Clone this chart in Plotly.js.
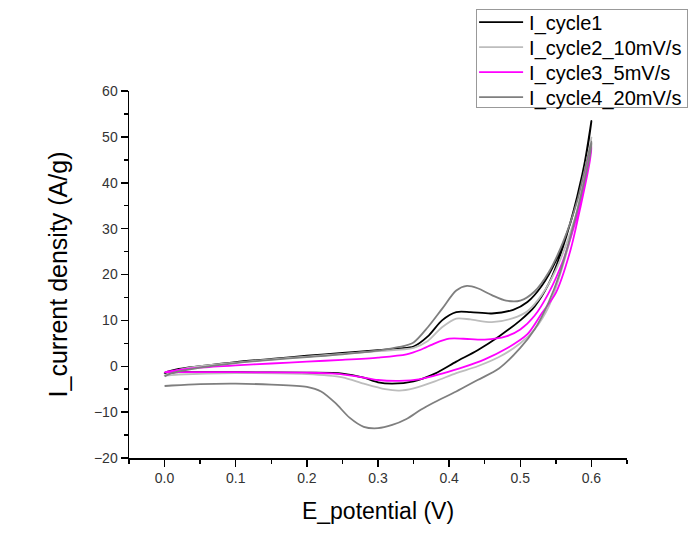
<!DOCTYPE html>
<html>
<head>
<meta charset="utf-8">
<script src="https://cdn.plot.ly/plotly-3.0.1.min.js"></script>
<style>html,body{margin:0;padding:0;background:#fff;}#chart{width:692px;height:537px;}</style>
</head>
<body>
<div id="chart"></div>
<script>
// Series names
const seriesNames = ["I_cycle1", "I_cycle2_10mV/s", "I_cycle3_5mV/s", "I_cycle4_20mV/s"];

// Cycle 1 (forward scan then reverse scan)
const cycle1E = [0,0.02,0.05,0.1,0.15,0.2,0.25,0.3,0.33,0.35,0.37,0.39,0.41,0.43,0.46,0.49,0.51,0.53,0.55,0.57,0.59,0.6,
  0.595,0.58,0.56,0.54,0.52,0.5,0.47,0.44,0.41,0.38,0.35,0.32,0.3,0.28,0.25,0.2,0.1,0.02,0];
const cycle1I = [-1.5,-0.6,0,0.9,1.6,2.3,2.9,3.5,3.9,4.3,6.5,10,11.8,11.8,11.5,12.3,14,17.5,23,31,44,53.5,
  48,37,26,18,13,10,6.5,3.5,1,-1.6,-3.3,-3.8,-3.5,-2.5,-1.6,-1.4,-1.3,-1.3,-1.5];

// Cycle 2, 10 mV/s
const cycle2E = [0,0.02,0.05,0.1,0.15,0.2,0.25,0.3,0.35,0.37,0.39,0.41,0.43,0.46,0.49,0.51,0.53,0.55,0.57,0.59,0.6,
  0.595,0.58,0.56,0.54,0.52,0.5,0.47,0.44,0.41,0.38,0.35,0.33,0.31,0.28,0.25,0.2,0.1,0.02,0];
const cycle2I = [-2,-0.8,0,0.8,1.5,2.1,2.7,3.3,4,5.5,8.5,10.4,10.2,9.6,10.5,12,15.5,21,29,40,50,
  45,34,22,13,8,5,2,0,-1.5,-3.3,-4.8,-5.3,-5,-3.8,-2.4,-1.7,-1.5,-1.8,-2];

// Cycle 3, 5 mV/s
const cycle3E = [0,0.02,0.05,0.1,0.15,0.2,0.25,0.3,0.34,0.36,0.38,0.4,0.42,0.45,0.48,0.5,0.52,0.54,0.56,0.58,0.6,
  0.598,0.585,0.57,0.55,0.53,0.51,0.48,0.45,0.42,0.39,0.36,0.33,0.3,0.27,0.24,0.2,0.1,0.02,0];
const cycle3I = [-1.3,-0.8,-0.3,0.2,0.6,1,1.4,1.9,2.6,3.6,5,6,6,5.8,6.5,8,11,16,23,33,48,
  45,35,25,16,11.5,7,3.8,1.5,-0.2,-1.6,-2.8,-3.2,-3,-2.2,-1.6,-1.4,-1.3,-1.3,-1.3];

// Cycle 4, 20 mV/s
const cycle4E = [0,0.01,0.05,0.1,0.15,0.2,0.25,0.3,0.33,0.35,0.37,0.39,0.41,0.425,0.44,0.46,0.48,0.5,0.52,0.54,0.56,0.58,0.6,
  0.598,0.585,0.57,0.555,0.54,0.52,0.5,0.47,0.44,0.41,0.38,0.36,0.34,0.32,0.3,0.28,0.26,0.24,0.22,0.2,0.15,0.1,0.05,0.01,0];
const cycle4I = [-2.2,-1.5,-0.3,0.7,1.4,2,2.6,3.4,4.2,5.2,8.5,12.5,16.5,17.5,17,15.5,14.3,14.3,16.3,20.5,27,36,49,
  46,37,28,20,14,8,4,-0.5,-3,-5.5,-7.8,-9.5,-11.5,-12.8,-13.5,-13.2,-11.2,-8,-5.5,-4.5,-4,-3.8,-3.9,-4.2,-4.3];

// Axis tick values
const xTicks = [0.0,0.1,0.2,0.3,0.4,0.5,0.6];
const yTicks = [-20,-10,0,10,20,30,40,50,60];

const colors = ["#000000", "#bdbdbd", "#ff00ff", "#7f7f7f"];
const xs = [cycle1E, cycle2E, cycle3E, cycle4E];
const ys = [cycle1I, cycle2I, cycle3I, cycle4I];

const traces = seriesNames.map((n, i) => ({
  type: "scatter", mode: "lines", name: n,
  x: xs[i], y: ys[i],
  line: {color: colors[i], width: 1.8, shape: "spline", smoothing: 0.8}
}));

const fam = "Liberation Sans, Arial, sans-serif";

const layout = {
  width: 692, height: 537,
  margin: {l: 129, r: 65, t: 91, b: 79, autoexpand: false},
  paper_bgcolor: "#fff", plot_bgcolor: "#fff",
  font: {family: fam, color: "#000"},
  showlegend: true,
  legend: {
    xref: "container", yref: "container",
    x: 0.688, y: 0.983, xanchor: "left", yanchor: "top",
    bgcolor: "#fff", bordercolor: "#999", borderwidth: 1,
    font: {family: fam, size: 20, color: "#000"},
    itemwidth: 42,
    tracegroupgap: 0
  },
  xaxis: {
    range: [-0.05, 0.65],
    tickvals: xTicks, ticktext: xTicks.map(v => v.toFixed(1)),
    ticks: "outside", ticklen: 7, tickwidth: 1.5, tickcolor: "#000",
    minor: {dtick: 0.05, tick0: 0, ticks: "outside", ticklen: 4, tickwidth: 1.5, tickcolor: "#000", showgrid: false},
    showline: true, linecolor: "#000", linewidth: 1.5,
    showgrid: false, zeroline: false,
    tickfont: {family: fam, size: 14, color: "#333"},
    title: {text: "E_potential (V)", font: {family: fam, size: 23, color: "#000"}, standoff: 17}
  },
  yaxis: {
    range: [-20, 60],
    tickvals: yTicks,
    ticks: "outside", ticklen: 7, tickwidth: 1.5, tickcolor: "#000",
    minor: {dtick: 5, tick0: 0, ticks: "outside", ticklen: 4, tickwidth: 1.5, tickcolor: "#000", showgrid: false},
    showline: true, linecolor: "#000", linewidth: 1.5,
    showgrid: false, zeroline: false,
    tickfont: {family: fam, size: 14, color: "#333"},
    title: {text: "I_current density (A/g)", font: {family: fam, size: 25, color: "#000"}, standoff: 19}
  }
};

Plotly.newPlot("chart", traces, layout, {displayModeBar: false, staticPlot: true}).then(gd => {
  // tighten legend row spacing to match the reference (large text, compact rows)
  const leg = gd.querySelector(".legend");
  if (!leg) return;
  const rowGap = 25, firstRow = 13, boxH = 98;
  leg.querySelectorAll(".traces").forEach((el, i) => {
    const m = /translate\(\s*([-\d.e]+)[\s,]+([-\d.e]+)\s*\)/.exec(el.getAttribute("transform") || "");
    const x = m ? parseFloat(m[1]) : 0;
    el.setAttribute("transform", "translate(" + x + "," + (firstRow + rowGap * i) + ")");
    const ln = el.querySelector("path.js-line");
    if (ln) ln.setAttribute("d", "M2,0h44");
  });
  const bg = leg.querySelector("rect.bg");
  if (bg) bg.setAttribute("height", boxH);
});
</script>
</body>
</html>
